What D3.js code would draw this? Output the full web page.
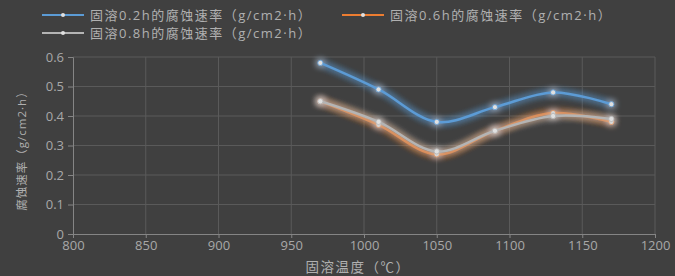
<!DOCTYPE html>
<html>
<head>
<meta charset="utf-8">
<script src="https://cdn.jsdelivr.net/npm/d3@7"></script>
<style>
  body { margin: 0; background: #404040; }
  svg { display: block; font-family: "Open Sans", "Noto Sans CJK SC", sans-serif; }
</style>
</head>
<body>
<div id="chart"></div>
<script>
var temps = [970, 1010, 1050, 1090, 1130, 1170];
var rate02 = [0.58, 0.49, 0.38, 0.43, 0.48, 0.44];
var rate06 = [0.45, 0.37, 0.27, 0.35, 0.41, 0.38];
var rate08 = [0.45, 0.38, 0.28, 0.35, 0.40, 0.39];
var seriesNames = [
  "固溶0.2h的腐蚀速率（g/cm2·h）",
  "固溶0.6h的腐蚀速率（g/cm2·h）",
  "固溶0.8h的腐蚀速率（g/cm2·h）"
];
var xTicks = [800, 850, 900, 950, 1000, 1050, 1100, 1150, 1200];
var yTicks = [0, 0.1, 0.2, 0.3, 0.4, 0.5, 0.6];

var width = 675, height = 276;
var margin = { left: 73, right: 20, top: 57, bottom: 42 };

var svg = d3.select("#chart").append("svg")
  .attr("width", width)
  .attr("height", height);

svg.append("rect").attr("width", width).attr("height", height).attr("fill", "#404040");

var defs = svg.append("defs");
var glow = defs.append("filter").attr("id", "glow")
  .attr("x", "-20%").attr("y", "-40%").attr("width", "140%").attr("height", "180%");
glow.append("feGaussianBlur").attr("in", "SourceGraphic").attr("stdDeviation", 3.5).attr("result", "blur");
var merge = glow.append("feMerge");
merge.append("feMergeNode").attr("in", "blur");
merge.append("feMergeNode").attr("in", "blur");
merge.append("feMergeNode").attr("in", "SourceGraphic");

var x = d3.scaleLinear().domain([800, 1200]).range([margin.left, width - margin.right]);
var y = d3.scaleLinear().domain([0, 0.6]).range([height - margin.bottom, margin.top]);

// grid
svg.append("g").selectAll("line").data(xTicks.slice(1)).join("line")
  .attr("x1", d => x(d)).attr("x2", d => x(d))
  .attr("y1", y(0)).attr("y2", y(0.6))
  .attr("stroke", "#5a5a5a").attr("stroke-width", 1);
svg.append("g").selectAll("line").data(yTicks.slice(1)).join("line")
  .attr("x1", x(800)).attr("x2", x(1200))
  .attr("y1", d => y(d)).attr("y2", d => y(d))
  .attr("stroke", "#5a5a5a").attr("stroke-width", 1);

// axes
var xAxis = svg.append("g")
  .attr("transform", "translate(0," + y(0) + ")")
  .call(d3.axisBottom(x).tickValues(xTicks).tickFormat(d3.format("d")).tickSize(4).tickPadding(3));
var yAxis = svg.append("g")
  .attr("transform", "translate(" + x(800) + ",0)")
  .call(d3.axisLeft(y).tickValues(yTicks).tickSize(5).tickPadding(4)
    .tickFormat(d => d === 0 ? "0" : d3.format(".1f")(d)));

[xAxis, yAxis].forEach(function(a) {
  a.select(".domain").attr("stroke", "#858585");
  a.selectAll(".tick line").attr("stroke", "#858585");
  a.selectAll(".tick text").attr("fill", "#a8a8a8")
    .style("font-size", "13px").style("font-family", "\"Open Sans\", \"Noto Sans\", sans-serif");
});

// axis titles
svg.append("text")
  .attr("x", 358).attr("y", 272)
  .attr("text-anchor", "middle")
  .attr("fill", "#b0b0b0").style("font-size", "13.5px").style("letter-spacing", "1.5px")
  .text("固溶温度（℃）");
svg.append("text")
  .attr("transform", "translate(26,148) rotate(-90)")
  .attr("text-anchor", "middle")
  .attr("fill", "#b0b0b0").style("font-size", "11.5px").style("letter-spacing", "1px")
  .text("腐蚀速率（g/cm2·h）");

// series
var series = [
  { name: seriesNames[0], values: rate02, color: "#5b9bd5" },
  { name: seriesNames[1], values: rate06, color: "#ed7d31" },
  { name: seriesNames[2], values: rate08, color: "#b4b4b4" }
];

var line = d3.line()
  .x((d, i) => x(temps[i]))
  .y(d => y(d))
  .curve(d3.curveCatmullRom.alpha(0.5));

var sg = svg.append("g").selectAll("g").data(series).join("g")
  .attr("filter", "url(#glow)");
sg.append("path")
  .attr("d", d => line(d.values))
  .attr("fill", "none")
  .attr("stroke", d => d.color)
  .attr("stroke-width", 2.5);
sg.selectAll("circle").data(d => d.values.map(v => ({ v: v, c: d.color }))).join("circle")
  .attr("cx", (d, i) => x(temps[i]))
  .attr("cy", d => y(d.v))
  .attr("r", 2.6)
  .attr("fill", "#e0e0e0")
  .attr("stroke", d => d.c)
  .attr("stroke-width", 0.8);

// legend
var legendPos = [[42, 15], [342, 15], [42, 33]];
var lg = svg.append("g").selectAll("g").data(series).join("g")
  .attr("transform", (d, i) => "translate(" + legendPos[i][0] + "," + legendPos[i][1] + ")");
lg.append("line").attr("x1", 0).attr("x2", 42).attr("y1", 0).attr("y2", 0)
  .attr("stroke", d => d.color).attr("stroke-width", 2);
lg.append("circle").attr("cx", 21).attr("cy", 0).attr("r", 2)
  .attr("fill", "#e0e0e0");
lg.append("text").attr("x", 48).attr("y", 4.5)
  .attr("fill", "#b0b0b0").style("font-size", "13px").style("letter-spacing", "1.5px")
  .text(d => d.name);
</script>
</body>
</html>
